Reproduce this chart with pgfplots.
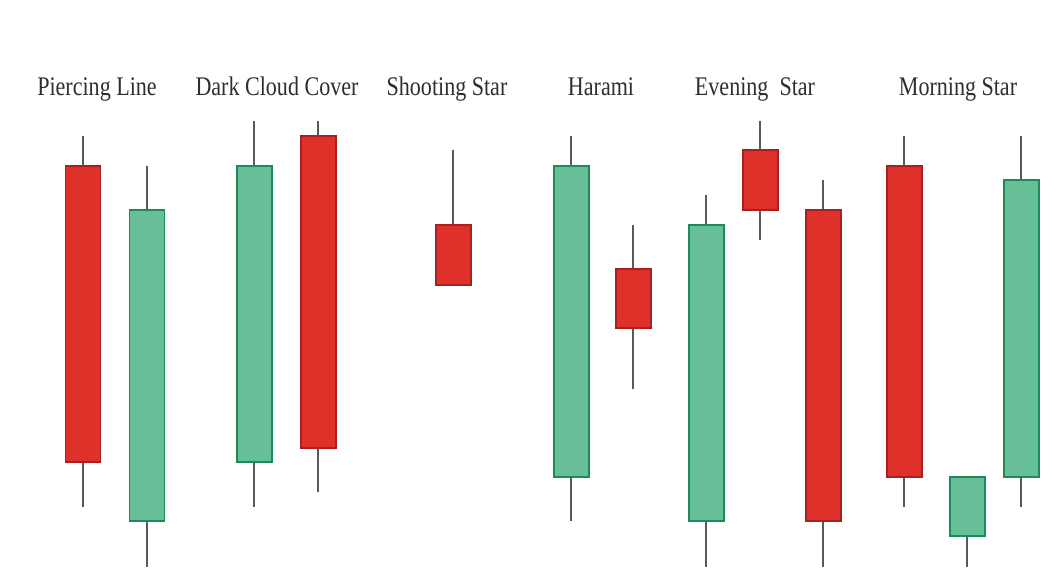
\documentclass[border=0pt]{standalone}
\usepackage{fontspec}
\setmainfont{Liberation Serif}[FakeStretch=0.82]
\usepackage{pgfplots}
\pgfplotsset{compat=1.18}
\usepgfplotslibrary{statistics}
\definecolor{cred}{HTML}{E0302A}
\definecolor{credd}{HTML}{A82020}
\definecolor{cgrn}{HTML}{66BF96}
\definecolor{cgrnd}{HTML}{1E8A5A}
\definecolor{wick}{HTML}{5A5A5A}
\definecolor{txt}{HTML}{2E2E2E}
\pgfplotsset{
  wk/.style={wick, line width=1.8pt, mark=none, forget plot},
  bodyR/.style={draw=credd, fill=cred, line width=2pt, forget plot},
  bodyG/.style={draw=cgrnd, fill=cgrn, line width=2pt, forget plot},
  boxplot/draw direction=y,
  boxplot/whisker extend=0,
  boxplot/box extend=35,
}
\newcommand{\body}[4]{% style, x, top, bottom
  \addplot[#1, boxplot prepared={draw position=#2, lower whisker=#4, lower quartile=#4, median=#4, upper quartile=#3, upper whisker=#3}] coordinates {};
}
\begin{document}
\begin{tikzpicture}
\begin{axis}[
  width=1059bp, height=578bp, scale only axis,
  xmin=0, xmax=1059, ymin=0, ymax=578, y dir=reverse,
  hide axis, clip=false,
]
\path[use as bounding box] (rel axis cs:0,0) rectangle (rel axis cs:1,1);
% wicks (x, high) -- (x, low)
\addplot[wk] coordinates {(83,136) (83,507)};
\addplot[wk] coordinates {(147,166) (147,567)};
\addplot[wk] coordinates {(254,121) (254,507)};
\addplot[wk] coordinates {(318,121) (318,492)};
\addplot[wk] coordinates {(453,150) (453,285)};
\addplot[wk] coordinates {(571,136) (571,521)};
\addplot[wk] coordinates {(633,225) (633,389)};
\addplot[wk] coordinates {(706,195) (706,567)};
\addplot[wk] coordinates {(760,121) (760,240)};
\addplot[wk] coordinates {(823,180) (823,567)};
\addplot[wk] coordinates {(904,136) (904,507)};
\addplot[wk] coordinates {(967,477) (967,567)};
\addplot[wk] coordinates {(1021,136) (1021,507)};
% bodies: x, top, bottom
\body{bodyR}{83}{166}{462}
\body{bodyG}{147}{210}{521}
\body{bodyG}{254}{166}{462}
\body{bodyR}{318}{136}{448}
\body{bodyR}{453}{225}{285}
\body{bodyG}{571}{166}{477}
\body{bodyR}{633}{269}{328}
\body{bodyG}{706}{225}{521}
\body{bodyR}{760}{150}{210}
\body{bodyR}{823}{210}{521}
\body{bodyR}{904}{166}{477}
\body{bodyG}{967}{477}{536}
\body{bodyG}{1021}{180}{477}
% labels
\begin{scope}[every node/.style={font=\fontsize{27}{30}\selectfont, text=txt, anchor=base}]
\node at (axis cs:97,95) {Piercing Line};
\node at (axis cs:277,95) {Dark Cloud Cover};
\node at (axis cs:447,95) {Shooting Star};
\node at (axis cs:601,95) {Harami};
\node at (axis cs:755,95) {Evening\ \ Star};
\node at (axis cs:958,95) {Morning Star};
\end{scope}
\end{axis}
\end{tikzpicture}
\end{document}
